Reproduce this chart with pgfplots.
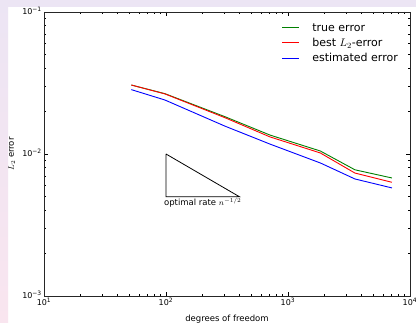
\documentclass[border=0pt]{standalone}
\usepackage{fontspec}
\setmainfont{DejaVu Sans}
\usepackage{pgfplots}
\pgfplotsset{compat=1.18}
\definecolor{mplgreen}{rgb}{0,0.5,0}
\definecolor{lavtop}{RGB}{236,229,244}
\definecolor{pinkbot}{RGB}{249,229,239}
\newcommand{\legline}[1]{\textcolor{#1}{\rule[3.2pt]{17pt}{1pt}}\hspace{13pt}}
\begin{document}
\begin{tikzpicture}[x=1pt,y=1pt]
\useasboundingbox (0,0) rectangle (416,323);
\fill[white] (0,0) rectangle (416,323);
\shade[top color=lavtop, bottom color=pinkbot] (0,0) rectangle (8,323);
\fill[lavtop] (0,316) rectangle (416,323);
\begin{axis}[
  at={(44pt,27pt)}, anchor=south west,
  scale only axis, width=366pt, height=284pt,
  xmode=log, ymode=log,
  xmin=10, xmax=10000, ymin=0.001, ymax=0.1,
  xtick={10,100,1000,10000},
  xticklabels={10\textsuperscript{1},10\textsuperscript{2},10\textsuperscript{3},10\textsuperscript{4}},
  ytick={0.001,0.01,0.1},
  yticklabels={10\textsuperscript{−3},10\textsuperscript{−2},10\textsuperscript{−1}},
  minor xtick={20,30,40,50,60,70,80,90,200,300,400,500,600,700,800,900,2000,3000,4000,5000,6000,7000,8000,9000},
  minor ytick={0.002,0.003,0.004,0.005,0.006,0.007,0.008,0.009,0.02,0.03,0.04,0.05,0.06,0.07,0.08,0.09},
  tick align=inside,
  major tick length=4pt, minor tick length=2pt,
  tick style={black, line width=0.6pt},
  axis line style={line width=0.9pt, black!85},
  tick label style={font=\fontsize{8}{9}\selectfont},
  yticklabel style={inner sep=1pt, yshift=1.5pt, xshift=-1pt},
  xticklabel style={inner sep=2pt},
  xlabel={degrees of freedom},
  ylabel={$L_2$ error},
  label style={font=\fontsize{8.5}{10}\selectfont},
  xlabel style={at={(axis description cs:0.5,-0.081)}, anchor=center},
  ylabel style={at={(axis description cs:-0.088,0.5)}, anchor=center},
  legend style={draw=none, fill=none, at={(0.637,0.975)}, anchor=north west, row sep=1.5pt,
    font=\fontsize{11}{13}\selectfont},
  legend cell align=left,
  legend image code/.code={},
  /tikz/every odd column/.append style={column sep=0pt},
]
\addlegendimage{mplgreen}
\addlegendentry{\legline{mplgreen}true error}
\addlegendimage{red}
\addlegendentry{\legline{red}best $L_2$-error}
\addlegendimage{blue}
\addlegendentry{\legline{blue}estimated error}
\addplot[color=mplgreen, line width=0.9pt, forget plot] coordinates {(52,0.0306)(98,0.0266)(305,0.0183)(711,0.0136)(1840,0.0105)(3540,0.00774)(7110,0.00678)};
\addplot[color=red, line width=0.9pt, forget plot] coordinates {(52,0.0306)(98,0.0265)(305,0.0180)(711,0.0132)(1840,0.01017)(3540,0.00734)(7110,0.00632)};
\addplot[color=blue, line width=0.9pt, forget plot] coordinates {(52,0.0284)(98,0.0240)(305,0.0157)(711,0.01175)(1840,0.00865)(3540,0.00667)(7110,0.00577)};
\addplot[black, line width=0.8pt, forget plot] coordinates {(100,0.01)(100,0.005)(400,0.005)(100,0.01)};
\node[anchor=north, font=\fontsize{8.5}{10}\selectfont, inner sep=1.5pt] at (axis cs:200,0.005) {optimal rate $n^{-1/2}$};
\end{axis}
\end{tikzpicture}
\end{document}
